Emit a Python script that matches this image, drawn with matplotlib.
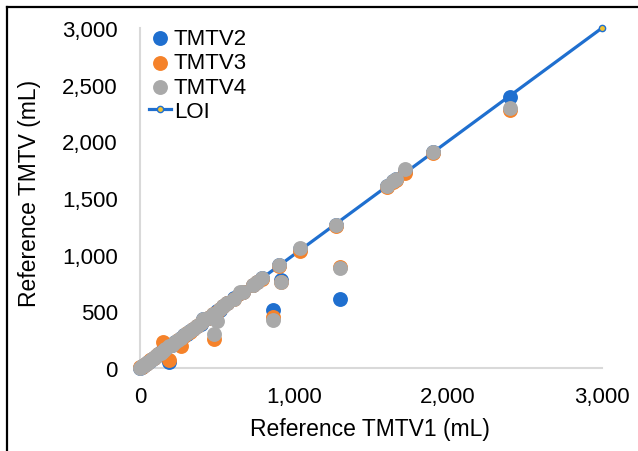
import matplotlib
matplotlib.use("Agg")
import matplotlib.pyplot as plt
from matplotlib.ticker import FuncFormatter
from matplotlib.lines import Line2D

plt.rcParams['font.family'] = ['Liberation Sans', 'DejaVu Sans']

tmtv1 = [3, 12, 20, 28, 36, 45, 55, 65, 78, 90, 105, 120, 135, 150, 165, 188, 205, 225, 245, 266,
         285, 305, 325, 345, 370, 395, 410, 440, 474, 481, 500, 520, 539, 565, 610, 649, 670, 734, 760, 790,
         864, 903, 916, 1039, 1270, 1300, 1604, 1643, 1665, 1721, 1905, 2400]
tmtv2 = [3, 13, 21, 27, 38, 44, 57, 63, 80, 88, 108, 118, 138, 148, 170, 53, 200, 228, 240, 262,
         290, 300, 330, 342, 375, 390, 430, 445, 470, 470, 505, 515, 547, 574, 615, 660, 672, 733, 755, 792,
         512, 905, 778, 1050, 1265, 610, 1606, 1648, 1668, 1735, 1906, 2390]
tmtv3 = [5, 10, 22, 30, 35, 47, 55, 68, 77, 92, 103, 125, 132, 229, 168, 70, 208, 222, 248, 194,
         283, 308, 322, 348, 368, 398, 425, 438, 478, 258, 495, 523, 544, 570, 612, 665, 668, 735, 757, 788,
         450, 902, 762, 1035, 1255, 895, 1600, 1640, 1660, 1720, 1900, 2275]
tmtv4 = [4, 14, 19, 29, 37, 46, 54, 66, 79, 91, 106, 121, 136, 152, 166, 190, 206, 226, 246, 268,
         287, 306, 327, 346, 371, 396, 432, 441, 476, 300, 415, 521, 547, 574, 612, 671, 673, 733, 759, 791,
         424, 909, 760, 1059, 1262, 885, 1606, 1650, 1670, 1755, 1906, 2290]
loi_x = [0, 3000]
loi_y = [0, 3000]
ticks = [0, 500, 1000, 1500, 2000, 2500, 3000]
xticks = [0, 1000, 2000, 3000]

W, H = 638, 452
fig = plt.figure(figsize=(W / 100, H / 100), dpi=100)
ax = fig.add_axes([140 / W, 1 - 369 / H, (602 - 140) / W, (369 - 29) / H])

c2, c3, c4, cl = '#1f6fcf', '#f5822a', '#a9a9a9', '#1f6fcf'
ax.plot(loi_x, loi_y, color=cl, lw=2.3, marker='o', ms=4.5, mfc='#f2c230', mec=cl, mew=1,
        label='LOI', zorder=2, clip_on=False)
ax.scatter(tmtv1, tmtv2, s=115, color=c2, label='TMTV2', zorder=3, clip_on=False, linewidths=0)
ax.scatter(tmtv1, tmtv3, s=115, color=c3, label='TMTV3', zorder=4, clip_on=False, linewidths=0)
ax.scatter(tmtv1, tmtv4, s=115, color=c4, label='TMTV4', zorder=5, clip_on=False, linewidths=0)

ax.set_xlim(0, 3000)
ax.set_ylim(0, 3000)
ax.set_xticks(xticks)
ax.set_yticks(ticks)
fmt = FuncFormatter(lambda v, p: f"{int(v):,}")
ax.xaxis.set_major_formatter(fmt)
ax.yaxis.set_major_formatter(fmt)
ax.tick_params(length=0, labelsize=16, colors='#000000')
ax.tick_params(axis='x', pad=13)
ax.tick_params(axis='y', pad=16)
for s in ['top', 'right']:
    ax.spines[s].set_visible(False)
for s in ['left', 'bottom']:
    ax.spines[s].set_color('#d9d9d9')
    ax.spines[s].set_linewidth(1.5)
ax.set_xlabel('Reference TMTV1 (mL)', fontsize=16.5, va='center')
ax.set_ylabel('Reference TMTV (mL)', fontsize=16.5, va='center')
ax.xaxis.set_label_coords((370 - 140) / 462, (369 - 430) / 340)
ax.yaxis.set_label_coords((30 - 140) / 462, (369 - 193) / 340)

h, l = ax.get_legend_handles_labels()
order = [l.index(k) for k in ['TMTV2', 'TMTV3', 'TMTV4', 'LOI']]
leg = ax.legend([h[i] for i in order], [l[i] for i in order], loc='upper left',
                bbox_to_anchor=(149 / W, 1 - 29 / H), bbox_transform=fig.transFigure,
                frameon=False, fontsize=16, handlelength=1.0, handletextpad=0.12,
                labelspacing=0.15, borderaxespad=0, borderpad=0)

fig.add_artist(Line2D([7 / W, 1], [1 - 8 / H, 1 - 8 / H], color='black', lw=1.6, transform=fig.transFigure))
fig.add_artist(Line2D([7 / W, 7 / W], [0, 1 - 8 / H], color='black', lw=1.6, transform=fig.transFigure))

fig.savefig('out.png', dpi=100)
